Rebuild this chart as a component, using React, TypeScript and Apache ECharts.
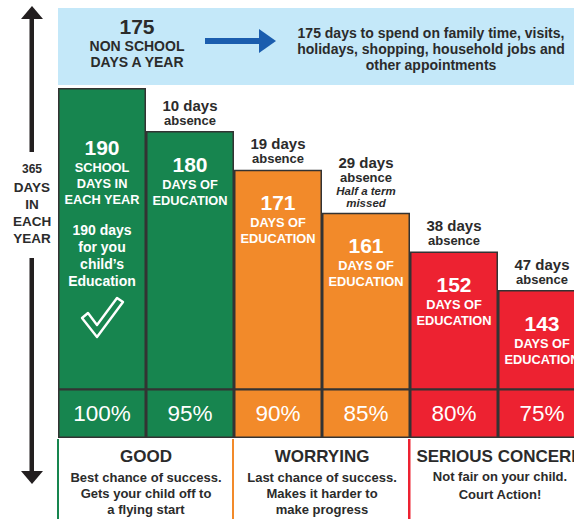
import React, { useEffect, useRef } from 'react';
import * as echarts from 'echarts';

const categories = ['100%', '95%', '90%', '85%', '80%', '75%'];
const educationDays = [190, 180, 171, 161, 152, 143];
const absenceDays = [0, 10, 19, 29, 38, 47];
const absenceNotes = ['', '', '', 'Half a term|missed', '', ''];
const attendancePct = [100, 95, 90, 85, 80, 75];
const zones = ['good', 'good', 'worrying', 'worrying', 'serious', 'serious'];
const zoneColors: Record<string, string> = { good: '#17854F', worrying: '#F28A2A', serious: '#ED2231' };
const zoneTitles = ['GOOD', 'WORRYING', 'SERIOUS CONCERN'];
const zoneNotes = [
  ['Best chance of success.', 'Gets your child off to', 'a flying start'],
  ['Last chance of success.', 'Makes it harder to', 'make progress'],
  ['Not fair on your child.', 'Court Action!'],
];
const yearDays = 365;
const schoolDays = 190;
const nonSchoolDays = 175;
const nonSchoolText = ['175 days to spend on family time, visits,', 'holidays, shopping, household jobs and', 'other appointments'];
const schoolNote = ['190 days', 'for you', 'child’s', 'Education'];

const FF = '"Liberation Sans", Arial, sans-serif';
const TXT = '#2b2b2b';
const font = (size: number, weight = 'bold', style = 'normal') => `${style} ${weight} ${size}px ${FF}`;
const txt = (text: string, x: number, y: number, size: number, opts: any = {}) => ({
  type: 'text', x, y, z: 100,
  style: {
    text, font: font(size, opts.weight ?? 'bold', opts.style ?? 'normal'),
    fill: opts.fill ?? TXT, align: 'center', verticalAlign: 'middle',
    textAlign: 'center', textVerticalAlign: 'middle',
  },
});

export default function App() {
  const ref = useRef<HTMLDivElement>(null);
  useEffect(() => {
    if (!ref.current) return;
    const chart = echarts.init(ref.current, null, { renderer: 'svg' });

    const bar1Text = [
      `{v|${schoolDays}}`, '{t|SCHOOL}', '{t|DAYS IN}', '{t|EACH YEAR}', '{g| }',
      ...schoolNote.map((s) => `{b|${s}}`),
    ].join('\n');

    const zoneCenters = [146, 322, 500];
    const bottomGraphics: any[] = [];
    zoneTitles.forEach((t, i) => {
      bottomGraphics.push(txt(t, zoneCenters[i], 456, 17));
      const ys = i === 2 ? [476, 494] : [477, 493, 509];
      zoneNotes[i].forEach((n, j) => bottomGraphics.push(txt(n, zoneCenters[i], ys[j], 13)));
    });

    const option: any = {
      animation: false,
      backgroundColor: '#ffffff',
      grid: [
        { left: 58, top: 45, width: 528, height: 344, outerBoundsMode: 'none' },
        { left: 58, top: 389, width: 528, height: 49, outerBoundsMode: 'none' },
      ],
      xAxis: [
        { type: 'category', data: categories, gridIndex: 0, show: false },
        { type: 'category', data: categories, gridIndex: 1, show: false },
      ],
      yAxis: [
        { type: 'value', min: 120, max: 200, gridIndex: 0, show: false },
        { type: 'value', min: 0, max: 1, gridIndex: 1, show: false },
      ],
      series: [
        {
          type: 'bar', xAxisIndex: 0, yAxisIndex: 0,
          barCategoryGap: '0%', barGap: '-100%',
          data: educationDays.map((v, i) => ({
            value: v,
            itemStyle: { color: zoneColors[zones[i]] },
            label: i === 0 ? { distance: 47 } : undefined,
          })),
          itemStyle: { borderColor: '#333333', borderWidth: 1.5 },
          label: {
            show: true, position: 'insideTop', distance: 21, color: '#ffffff', fontFamily: FF,
            formatter: (p: any) => (p.dataIndex === 0 ? bar1Text : `{v|${p.value}}\n{t|DAYS OF}\n{t|EDUCATION}`),
            rich: {
              v: { fontSize: 21, fontWeight: 'bold', lineHeight: 24, color: '#fff', fontFamily: FF },
              t: { fontSize: 12.8, fontWeight: 'bold', lineHeight: 16, color: '#fff', fontFamily: FF },
              g: { fontSize: 10, lineHeight: 14, color: '#fff' },
              b: { fontSize: 14, fontWeight: 'bold', lineHeight: 17, color: '#fff', fontFamily: FF },
            },
          },
        },
        {
          type: 'bar', xAxisIndex: 0, yAxisIndex: 0,
          barCategoryGap: '0%', barGap: '-100%',
          data: educationDays,
          silent: true,
          itemStyle: { color: 'rgba(0,0,0,0)', borderWidth: 0 },
          label: {
            show: true, position: 'top', distance: 4, fontFamily: FF,
            formatter: (p: any) => {
              const a = absenceDays[p.dataIndex];
              if (!a) return '';
              let s = `{d|${a} days}\n{a|absence}`;
              const note = absenceNotes[p.dataIndex];
              if (note) s += '\n' + note.split('|').map((n) => `{i|${n}}`).join('\n');
              return s;
            },
            rich: {
              d: { fontSize: 15, fontWeight: 'bold', lineHeight: 16, color: TXT, fontFamily: FF },
              a: { fontSize: 13, fontWeight: 'bold', lineHeight: 14, color: TXT, fontFamily: FF },
              i: { fontSize: 11.5, fontWeight: 'bold', fontStyle: 'italic', lineHeight: 12, color: TXT, fontFamily: FF },
            },
          },
        },
        {
          type: 'bar', xAxisIndex: 1, yAxisIndex: 1,
          barCategoryGap: '0%',
          data: attendancePct.map((p, i) => ({ value: 1, itemStyle: { color: zoneColors[zones[i]] } })),
          itemStyle: { borderColor: '#333333', borderWidth: 1.5 },
          label: {
            show: true, position: 'inside', color: '#ffffff', fontSize: 22.5, fontFamily: FF,
            formatter: (p: any) => `${attendancePct[p.dataIndex]}%`,
          },
        },
      ],
      graphic: [
        { type: 'rect', z: 50, shape: { x: 58, y: 8, width: 540, height: 77 }, style: { fill: '#C4E8F9' } },
        txt(String(nonSchoolDays), 137, 26, 21),
        txt('NON SCHOOL', 137, 46, 14),
        txt('DAYS A YEAR', 137, 62, 14),
        { type: 'rect', z: 100, shape: { x: 205, y: 38, width: 57, height: 6 }, style: { fill: '#1B5DAE' } },
        { type: 'polygon', z: 100, shape: { points: [[259, 29], [276, 41], [259, 53]] }, style: { fill: '#1B5DAE' } },
        ...nonSchoolText.map((t, i) => txt(t, 431, 33 + i * 16, 14)),
        { type: 'rect', z: 100, shape: { x: 29.5, y: 18, width: 4.5, height: 134 }, style: { fill: '#231F20' } },
        { type: 'polygon', z: 100, shape: { points: [[21, 19], [32, 6], [43, 19]] }, style: { fill: '#231F20' } },
        { type: 'rect', z: 100, shape: { x: 29.5, y: 258, width: 4.5, height: 214 }, style: { fill: '#231F20' } },
        { type: 'polygon', z: 100, shape: { points: [[21, 471], [32, 484], [43, 471]] }, style: { fill: '#231F20' } },
        txt(String(yearDays), 32, 169, 12),
        txt('DAYS', 32, 187, 13.5),
        txt('IN', 32, 204, 13.5),
        txt('EACH', 32, 221, 13.5),
        txt('YEAR', 32, 238, 13.5),
        {
          type: 'polygon', z: 100,
          shape: { points: [[82, 318], [88, 313], [97, 325], [117, 298], [123, 302], [97, 337]] },
          style: { fill: 'none', stroke: '#ffffff', lineWidth: 2.4, lineJoin: 'round' },
        },
        { type: 'rect', z: 100, shape: { x: 57, y: 439, width: 2, height: 80 }, style: { fill: zoneColors.good } },
        { type: 'rect', z: 100, shape: { x: 232, y: 439, width: 2, height: 80 }, style: { fill: zoneColors.worrying } },
        { type: 'rect', z: 100, shape: { x: 408, y: 439, width: 2.5, height: 80 }, style: { fill: zoneColors.serious } },
        ...bottomGraphics,
      ],
    };
    chart.setOption(option);
    return () => chart.dispose();
  }, []);
  return (
    <div style={{ position: 'fixed', left: 0, top: 0, width: 574, height: 519, overflow: 'hidden', background: '#fff' }}>
      <div ref={ref} style={{ width: 600, height: 519 }} />
    </div>
  );
}
